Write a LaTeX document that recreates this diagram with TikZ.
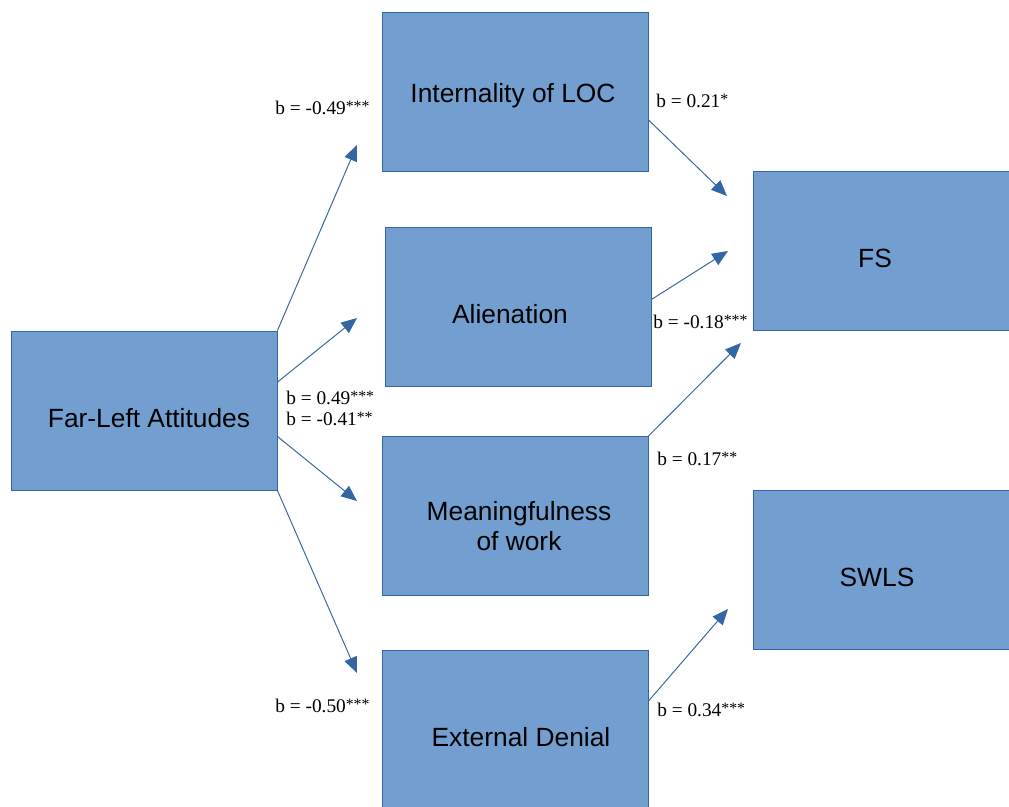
\documentclass[tikz,border=0pt]{standalone}
\usepackage{fontspec}
\setmainfont{Liberation Serif}
\setsansfont{Liberation Sans}
\usetikzlibrary{arrows.meta}
\definecolor{boxfill}{HTML}{729FCF}
\definecolor{boxline}{HTML}{3465A4}
\newcommand{\sigstars}[1]{\raisebox{0.3ex}{\fontsize{9}{9}\selectfont #1}}

\begin{document}
\begin{tikzpicture}[x=0.02cm, y=-0.02cm,
    construct/.style ={rectangle, draw=boxline, line width=0.5pt, fill=boxfill,
      minimum width=5.32cm, minimum height=3.18cm, inner sep=0pt},
    boxtext/.style ={font=\sffamily\fontsize{15}{17.5}\selectfont, inner sep=0pt, align=center},
    coef/.style ={anchor=west, inner sep=0pt, font=\fontsize{11}{12}\selectfont},
    effect/.style ={draw=boxline, line width=0.55pt, -{Triangle[length=9pt, width=7.5pt]}}]
   \clip (0,0) rectangle (1009,807);
   \node[construct, label={[boxtext, xshift=0.1cm, yshift=-0.15cm]center:Far-Left Attitudes}] (far) at (144,410.5) {};
   \node[construct, label={[boxtext, xshift=-0.04cm, yshift=-0.08cm]center:Internality of LOC}] (loc) at (515,91.5) {};
   \node[construct, label={[boxtext, xshift=-0.16cm, yshift=-0.16cm]center:Alienation}] (alien) at (518,306.5) {};
   \node[construct, label={[boxtext, xshift=0.08cm, yshift=-0.2cm]center:Meaningfulness\\of work}] (mean) at (515,516) {};
   \node[construct, label={[boxtext, xshift=0.12cm, yshift=-0.15cm]center:External Denial}] (ext) at (515,729.5) {};
   \node[construct, label={[boxtext, xshift=-0.22cm, yshift=-0.14cm]center:FS}] (fs) at (886,251) {};
   \node[construct, label={[boxtext, xshift=-0.18cm, yshift=-0.15cm]center:SWLS}] (swls) at (886,569.5) {};
   \coordinate (t1) at (357,145);
   \coordinate (t2) at (357,318);
   \coordinate (t3) at (357,501);
   \coordinate (t4) at (357,673);
   \coordinate (t5) at (727,196);
   \coordinate (t6) at (728,251);
   \coordinate (t7) at (741,343);
   \coordinate (t8) at (728,609);
   \draw[effect] (far.north east) to (t1);
   \draw[effect] (far.12) to (t2);
   \draw[effect] (far.-11) to (t3);
   \draw[effect] (far.south east) to (t4);
   \draw[effect] (loc.-12) to (t5);
   \draw[effect] (alien.3) to (t6);
   \draw[effect] (mean.north east) to (t7);
   \draw[effect] (ext.12.5) to (t8);
   \node[coef] (c1) at (275,108) {b = -0.49\sigstars{***}};
   \node[coef] (c2) at (286,398) {b = 0.49\sigstars{***}};
   \node[coef] (c3) at (286,419) {b = -0.41\sigstars{**}};
   \node[coef] (c4) at (275,706) {b = -0.50\sigstars{***}};
   \node[coef] (c5) at (656,101) {b = 0.21\sigstars{*}};
   \node[coef] (c6) at (653,322) {b = -0.18\sigstars{***}};
   \node[coef] (c7) at (657,459) {b = 0.17\sigstars{**}};
   \node[coef] (c8) at (657,710) {b = 0.34\sigstars{***}};
 \end{tikzpicture}
\end{document}
